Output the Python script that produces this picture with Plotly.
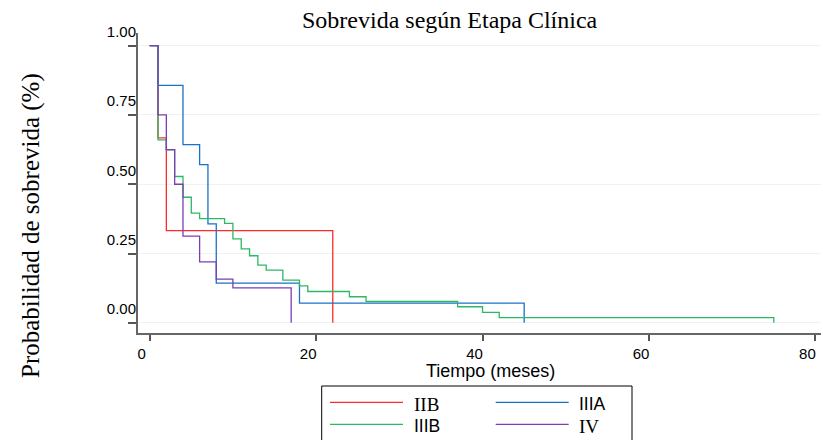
import plotly.graph_objects as go

# ---- data ----
groups = ["IIB", "IIIA", "IIIB", "IV"]

t_IIB = [0, 1, 2, 22]
s_IIB = [1.0, 0.667, 0.333, 0.0]

t_IIIA = [0, 1, 4, 6, 7, 8, 18, 45]
s_IIIA = [1.0, 0.857, 0.643, 0.571, 0.357, 0.143, 0.071, 0.0]

t_IIIB = [0, 1, 2, 3, 4, 5, 6, 9, 10, 11, 12, 13, 14, 16, 18, 19, 24, 26, 37, 40, 42, 75]
s_IIIB = [1.0, 0.660, 0.624, 0.528, 0.453, 0.396, 0.376, 0.359, 0.303, 0.267, 0.242,
          0.208, 0.190, 0.154, 0.133, 0.113, 0.094, 0.077, 0.058, 0.038, 0.019, 0.0]

t_IV = [0, 1, 2, 3, 4, 6, 8, 10, 17]
s_IV = [1.0, 0.750, 0.625, 0.500, 0.3125, 0.220, 0.158, 0.126, 0.0]

x_ticks = [0, 20, 40, 60, 80]
y_ticks = [0, 0.25, 0.5, 0.75, 1.0]
y_ticktext = ["0.00", "0.25", "0.50", "0.75", "1.00"]

title_text = "Sobrevida según Etapa Clínica"
x_title = "Tiempo (meses)"
y_title = "Probabilidad de sobrevida (%)"

# ---- styles ----
colors = {"IIB": "#ff2b2b", "IIIA": "#1a72c7", "IIIB": "#2db866", "IV": "#7b3fb3"}
SERIF = "Liberation Serif, Times New Roman, serif"
SANS = "Liberation Sans, Arial, sans-serif"
legend_fonts = {"IIB": (SERIF, 19), "IIIA": (SANS, 17.5), "IIIB": (SANS, 17.5), "IV": (SERIF, 19)}

series = {"IIB": (t_IIB, s_IIB), "IIIA": (t_IIIA, s_IIIA),
          "IIIB": (t_IIIB, s_IIIB), "IV": (t_IV, s_IV)}

W, H = 823, 440
ML, MR, MT, MB = 138, 2, 33, 107
PW, PH = W - ML - MR, H - MT - MB


def px(x):
    return (x - ML) / PW


def py(y):
    return (H - MB - y) / PH


fig = go.Figure()
for g in groups:
    t, s = series[g]
    fig.add_trace(go.Scatter(x=t, y=s, mode="lines", line=dict(color=colors[g], width=1.3, shape="hv"),
                             name=g, showlegend=False))

axis_common = dict(showline=True, linecolor="#666666", linewidth=2, ticks="outside",
                   tickcolor="#555555", tickwidth=1.5, zeroline=False,
                   tickfont=dict(family=SANS, size=15, color="#000000"))

fig.update_xaxes(range=[-1.405, 80.67], tickvals=x_ticks, ticklen=6, showgrid=False,
                 ticklabelshift=-8, **axis_common)
fig.update_yaxes(range=[-0.0367, 1.0457], tickvals=y_ticks, ticktext=y_ticktext, ticklen=8,
                 showgrid=True, gridcolor="#edf3f3", gridwidth=1,
                 ticklabelshift=-14, ticklabelstandoff=-11, **axis_common)

annotations = [
    dict(text=title_text, x=px(449.5), y=py(20), xref="paper", yref="paper", showarrow=False,
         xanchor="center", yanchor="middle", font=dict(family=SERIF, size=24, color="#000000")),
    dict(text=x_title, x=px(490.8), y=py(371), xref="paper", yref="paper", showarrow=False,
         xanchor="center", yanchor="middle", font=dict(family=SANS, size=18, color="#000000")),
    dict(text=y_title, x=px(31), y=py(226), xref="paper", yref="paper", showarrow=False,
         textangle=-90, xanchor="center", yanchor="middle",
         font=dict(family=SERIF, size=25, color="#000000")),
]

shapes = [dict(type="rect", xref="paper", yref="paper", x0=px(321.7), x1=px(632), y0=py(386), y1=py(460),
               line=dict(color="#000000", width=1), fillcolor="rgba(0,0,0,0)")]

legend_pos = {"IIB": (330, 402.3), "IIIA": (495.7, 402.3), "IIIB": (330, 424.3), "IV": (495.7, 424.3)}
for g in groups:
    lx, ly = legend_pos[g]
    shapes.append(dict(type="line", xref="paper", yref="paper", x0=px(lx), x1=px(lx + 73),
                       y0=py(ly), y1=py(ly), line=dict(color=colors[g], width=1.3)))
    fam, sz = legend_fonts[g]
    annotations.append(dict(text=g, x=px(lx + 81.7), y=py(ly + 2), xref="paper", yref="paper",
                            showarrow=False, xanchor="left", yanchor="middle",
                            font=dict(family=fam, size=sz, color="#000000")))

fig.update_layout(width=W, height=H, margin=dict(l=ML, r=MR, t=MT, b=MB, autoexpand=False),
                  paper_bgcolor="white", plot_bgcolor="white", showlegend=False,
                  annotations=annotations, shapes=shapes)

fig.write_html("out.html", config={"displayModeBar": False},
               post_script="document.body.style.margin='0';document.body.style.overflow='hidden';")
